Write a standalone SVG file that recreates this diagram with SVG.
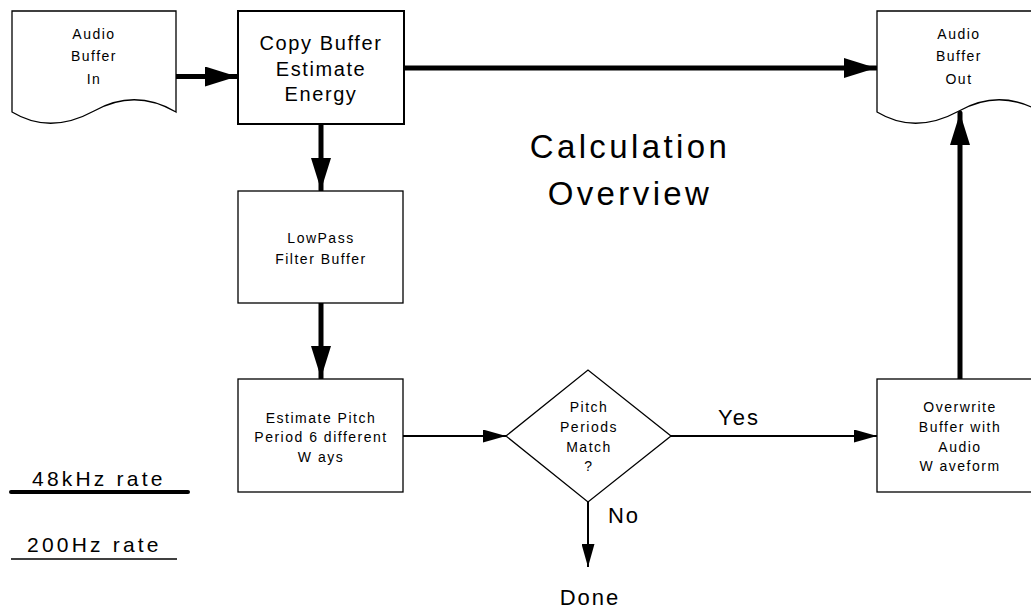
<svg xmlns="http://www.w3.org/2000/svg" width="1031" height="611" viewBox="0 0 1031 611">
  <style>
    text { font-family: "Liberation Sans", Arial, sans-serif; fill: #000; text-anchor: middle; }
    .small { font-size: 14px; letter-spacing: 1.5px; }
    .mid { font-size: 20px; letter-spacing: 1.6px; }
    .big { font-size: 22px; letter-spacing: 2px; }
    .title { font-size: 33px; letter-spacing: 3.4px; }
    .legend { font-size: 21px; letter-spacing: 3.2px; text-anchor: start; }
    .box { fill: #fff; stroke: #000; stroke-width: 1.3; }
    .boxb { fill: #fff; stroke: #000; stroke-width: 2; }
    .thick { stroke: #000; stroke-width: 5; fill: none; stroke-linecap: round; }
    .thin { stroke: #000; stroke-width: 2; fill: none; }
  </style>
  <defs>
    <marker id="headThick" viewBox="0 0 32 20" refX="32" refY="10" markerWidth="32" markerHeight="20" markerUnits="userSpaceOnUse" orient="auto">
      <path d="M0,0 L32,10 L0,20 Z" fill="#000"/>
    </marker>
    <marker id="headThin" viewBox="0 0 23 13" refX="23" refY="6.5" markerWidth="23" markerHeight="13" markerUnits="userSpaceOnUse" orient="auto">
      <path d="M0,0 L23,6.5 L0,13 Z" fill="#000"/>
    </marker>
  </defs>

  <rect width="1031" height="611" fill="#fff"/>

  <!-- connectors -->
  <g id="connectors">
    <line class="thick" x1="176" y1="76.5" x2="237" y2="76.5" marker-end="url(#headThick)"/>
    <line class="thick" x1="404" y1="68" x2="876" y2="68" marker-end="url(#headThick)"/>
    <line class="thick" x1="321" y1="124" x2="321" y2="190" marker-end="url(#headThick)"/>
    <line class="thick" x1="321" y1="303" x2="321" y2="378" marker-end="url(#headThick)"/>
    <line class="thick" x1="960" y1="379" x2="960" y2="113" marker-end="url(#headThick)"/>
    <line class="thin" x1="403" y1="436" x2="506" y2="436" marker-end="url(#headThin)"/>
    <line class="thin" x1="671" y1="436" x2="877" y2="436" marker-end="url(#headThin)"/>
    <line class="thin" x1="588" y1="502" x2="588" y2="567" marker-end="url(#headThin)"/>
    <text class="big" x="739" y="425">Yes</text>
    <text class="big" x="624" y="523">No</text>
  </g>

  <!-- input document -->
  <g id="audio-in">
    <path class="box" d="M12,11 H176 V112 Q135,88 94,111 Q50,135 12,112 Z"/>
    <text class="small" x="94" y="39">Audio</text>
    <text class="small" x="94" y="61">Buffer</text>
    <text class="small" x="94" y="84">In</text>
  </g>

  <g id="copy-buffer">
    <rect class="boxb" x="238" y="11" width="166" height="113"/>
    <text class="mid" x="321" y="50">Copy Buffer</text>
    <text class="mid" x="321" y="76">Estimate</text>
    <text class="mid" x="321" y="101">Energy</text>
  </g>

  <!-- output document -->
  <g id="audio-out">
    <path class="box" d="M877,11 H1041 V112 Q1000,88 959,111 Q915,135 877,112 Z"/>
    <text class="small" x="959" y="39">Audio</text>
    <text class="small" x="959" y="61">Buffer</text>
    <text class="small" x="959" y="84">Out</text>
  </g>

  <g id="lowpass">
    <rect class="box" x="238" y="191" width="165" height="112"/>
    <text class="small" x="321" y="243">LowPass</text>
    <text class="small" x="321" y="264">Filter Buffer</text>
  </g>

  <g id="estimate-pitch">
    <rect class="box" x="238" y="379" width="165" height="113"/>
    <text class="small" x="321" y="423">Estimate Pitch</text>
    <text class="small" x="321" y="442">Period 6 different</text>
    <text class="small" x="321" y="462">W ays</text>
  </g>

  <g id="pitch-match">
    <path class="box" d="M506,436 L588,370 L671,436 L588,502 Z"/>
    <text class="small" x="589" y="412">Pitch</text>
    <text class="small" x="589" y="432">Periods</text>
    <text class="small" x="589" y="452">Match</text>
    <text class="small" x="589" y="471">?</text>
  </g>

  <g id="overwrite">
    <rect class="box" x="877" y="379" width="165" height="113"/>
    <text class="small" x="960" y="412">Overwrite</text>
    <text class="small" x="960" y="432">Buffer with</text>
    <text class="small" x="960" y="452">Audio</text>
    <text class="small" x="960" y="471">W aveform</text>
  </g>

  <g id="done">
    <text class="big" x="590" y="605">Done</text>
  </g>

  <g id="title">
    <text class="title" x="630" y="158">Calculation</text>
    <text class="title" x="630" y="205">Overview</text>
  </g>

  <!-- rate legend -->
  <g id="legend">
    <text class="legend" x="32" y="486">48kHz rate</text>
    <line x1="11" y1="492" x2="188" y2="492" stroke="#000" stroke-width="4" stroke-linecap="round"/>
    <text class="legend" x="27" y="552">200Hz rate</text>
    <line x1="11" y1="559" x2="177" y2="559" stroke="#000" stroke-width="1.5"/>
  </g>
</svg>
